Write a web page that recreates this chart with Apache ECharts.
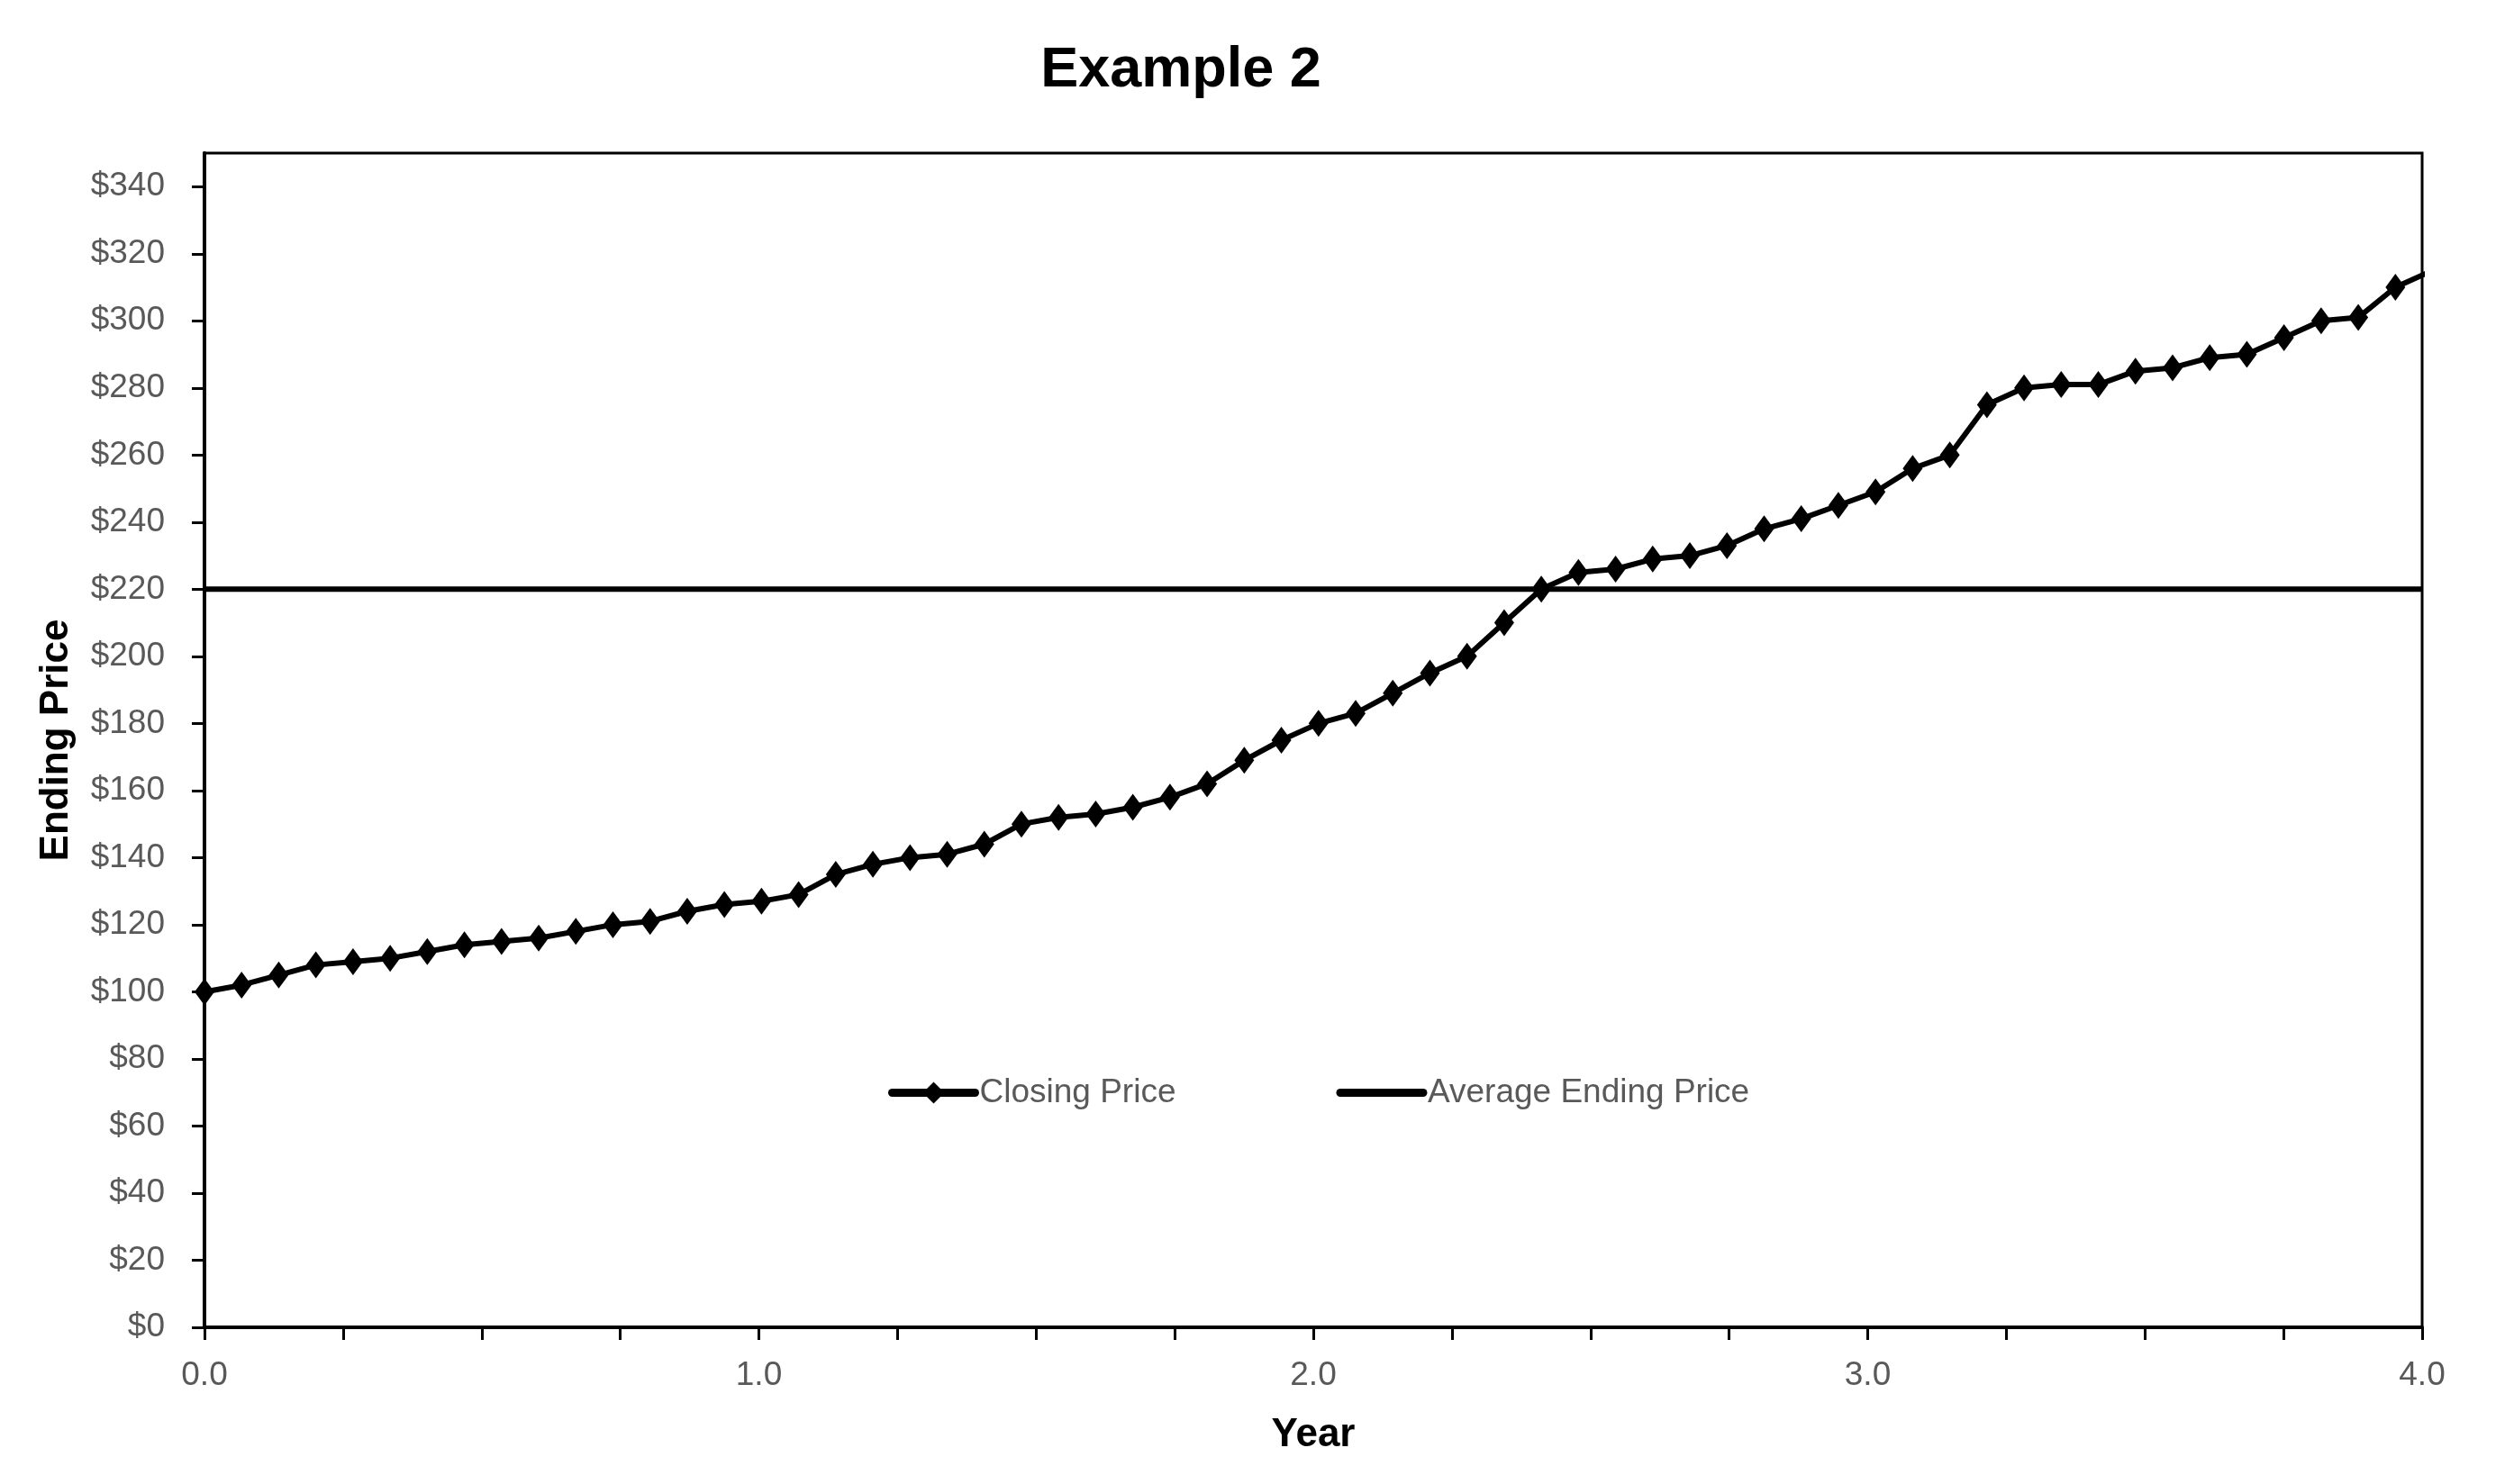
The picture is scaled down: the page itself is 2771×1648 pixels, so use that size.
<!DOCTYPE html>
<html>
<head>
<meta charset="utf-8">
<script src="https://cdn.jsdelivr.net/npm/echarts@6/dist/echarts.min.js"></script>
<style>
  html, body { margin: 0; padding: 0; background: #fff; }
  #chart { width: 2771px; height: 1648px; }
</style>
</head>
<body>
<div id="chart"></div>
<script>
// closing price, one reading every step along the year axis
var pointsPerYear = 14.93;
var closingPrice = [
    100, 102, 105, 108, 109, 110, 112, 114, 115, 116,
    118, 120, 121, 124, 126, 127, 129, 135, 138, 140,
    141, 144, 150, 152, 153, 155, 158, 162, 169, 175,
    180, 183, 189, 195, 200, 210, 220, 225, 226, 229,
    230, 233, 238, 241, 245, 249, 256, 260, 275, 280,
    281, 281, 285, 286, 289, 290, 295, 300, 301, 310,
    315
];
var averagePrice = 220;
var yearTicks = [0, 1, 2, 3, 4];
var priceTicks = [0, 20, 40, 60, 80, 100, 120, 140, 160, 180, 200, 220, 240, 260, 280, 300, 320, 340];

var fontName = '"Liberation Sans", Arial, sans-serif';
var grey = '#595959';

var closingData = closingPrice.map(function (v, i) {
    return [i / pointsPerYear, v];
});
var averageData = [[yearTicks[0], averagePrice], [yearTicks[yearTicks.length - 1], averagePrice]];

var quarterTicks = [];
for (var q = 0; q <= 16; q++) {
    quarterTicks.push(q / 4);
}

var option = {
    backgroundColor: '#fff',
    animation: false,
    title: {
        text: 'Example 2',
        left: 1306,
        textAlign: 'center',
        top: 42,
        textStyle: {
            fontFamily: fontName,
            fontSize: 63,
            fontWeight: 'bold',
            color: '#000'
        }
    },
    legend: {
        left: 981,
        top: 1190,
        itemWidth: 92,
        itemHeight: 30,
        itemGap: 178,
        textStyle: {
            fontFamily: fontName,
            fontSize: 37,
            color: grey
        },
        data: [
            {
                name: 'Closing Price',
                lineStyle: { width: 9, cap: 'round' }
            },
            {
                name: 'Average Ending Price',
                itemStyle: { opacity: 0 },
                lineStyle: { width: 9, cap: 'round' }
            }
        ]
    },
    grid: {
        left: 227,
        right: 82,
        top: 170,
        bottom: 174,
        show: true,
        borderColor: '#000',
        borderWidth: 3,
        backgroundColor: 'transparent'
    },
    xAxis: {
        type: 'value',
        min: 0,
        max: 4,
        name: 'Year',
        nameLocation: 'middle',
        nameGap: 98,
        nameTextStyle: {
            fontFamily: fontName,
            fontSize: 44,
            fontWeight: 'bold',
            color: '#000'
        },
        axisLine: { lineStyle: { color: '#000', width: 4 } },
        axisTick: {
            customValues: quarterTicks,
            length: 14,
            lineStyle: { color: '#000', width: 3 }
        },
        axisLabel: {
            customValues: yearTicks,
            margin: 35,
            fontFamily: fontName,
            fontSize: 37,
            color: grey,
            formatter: function (v) { return v.toFixed(1); }
        },
        splitLine: { show: false }
    },
    yAxis: {
        type: 'value',
        min: 0,
        max: 350,
        name: 'Ending Price',
        nameLocation: 'middle',
        nameRotate: 90,
        nameGap: 142,
        nameTextStyle: {
            fontFamily: fontName,
            fontSize: 44,
            fontWeight: 'bold',
            color: '#000'
        },
        axisLine: { show: true, lineStyle: { color: '#000', width: 4 } },
        axisTick: {
            show: true,
            customValues: priceTicks,
            length: 14,
            lineStyle: { color: '#000', width: 3 }
        },
        axisLabel: {
            customValues: priceTicks,
            margin: 44,
            fontFamily: fontName,
            fontSize: 37,
            color: grey,
            formatter: function (v) { return '$' + v; }
        },
        splitLine: { show: false }
    },
    series: [
        {
            name: 'Closing Price',
            type: 'line',
            data: closingData,
            clip: true,
            symbol: 'diamond',
            symbolSize: [22, 30],
            itemStyle: { color: '#000' },
            lineStyle: { color: '#000', width: 6 },
            z: 3
        },
        {
            name: 'Average Ending Price',
            type: 'line',
            data: averageData,
            showSymbol: false,
            symbol: 'none',
            itemStyle: { color: '#000' },
            lineStyle: { color: '#000', width: 6 },
            z: 2
        }
    ]
};

echarts.init(document.getElementById('chart')).setOption(option);
</script>
</body>
</html>
